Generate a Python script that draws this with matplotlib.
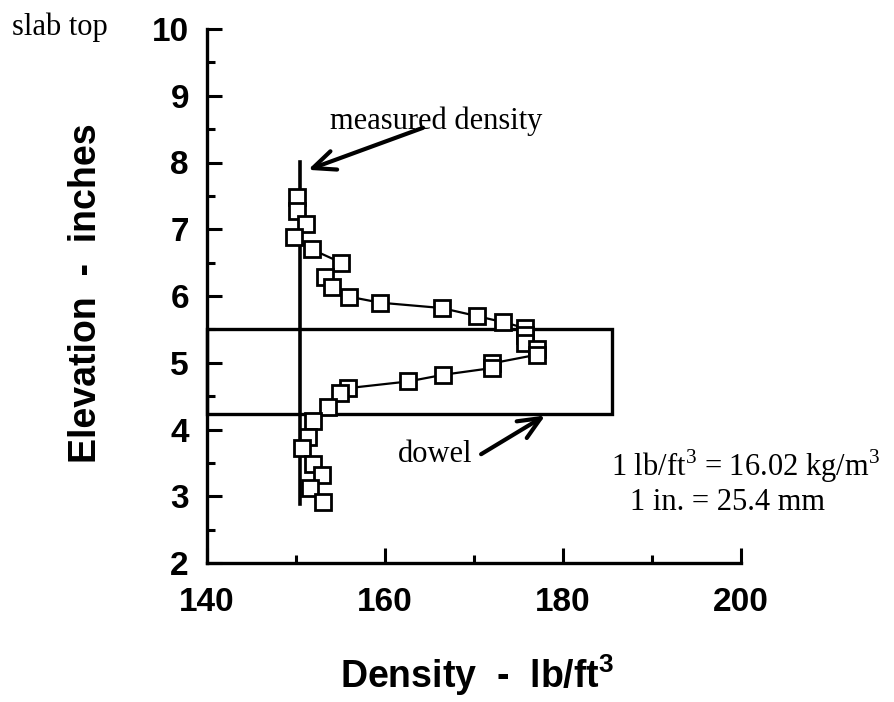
import matplotlib
matplotlib.use("Agg")
import matplotlib.pyplot as plt
from matplotlib.ticker import MultipleLocator
from matplotlib.patches import Rectangle

# Data (density lb/ft^3, elevation inches)
density = [150.15, 150.08, 151.09, 149.81, 151.76, 155.06, 153.26, 154.01, 155.96,
           159.44, 166.37, 170.30, 173.22, 175.73, 175.73, 175.73, 177.04, 177.04,
           171.99, 171.99, 166.55, 162.62, 155.88, 154.94, 153.63, 151.94, 151.38,
           150.64, 151.94, 152.89, 151.57, 153.00]
elevation = [7.49, 7.27, 7.08, 6.88, 6.70, 6.50, 6.29, 6.14, 5.99,
             5.90, 5.82, 5.70, 5.61, 5.52, 5.42, 5.30, 5.21, 5.12,
             4.99, 4.92, 4.82, 4.72, 4.62, 4.54, 4.34, 4.12, 3.89,
             3.72, 3.49, 3.32, 3.12, 2.92]
measured_density = 150.4
measured_range = [2.88, 8.01]
dowel_x = [140, 185.5]
dowel_y = [4.23, 5.5]
x_ticks = [140, 160, 180, 200]
y_ticks = [2, 3, 4, 5, 6, 7, 8, 9, 10]

SANS = "Liberation Sans"
SERIF = "Liberation Serif"
plt.rcParams["mathtext.fontset"] = "custom"
plt.rcParams["mathtext.rm"] = "Liberation Serif"
plt.rcParams["mathtext.bf"] = "Liberation Sans:bold"

W, H = 894, 702
fig = plt.figure(figsize=(W/100, H/100), dpi=100)
ax = fig.add_axes([207/W, 1-563/H, (741-207)/W, (563-29)/H])
ax.set_xlim(140, 200)
ax.set_ylim(2, 10)

for s in ["top", "right"]:
    ax.spines[s].set_visible(False)
for s in ["left", "bottom"]:
    ax.spines[s].set_linewidth(2.4)

ax.set_xticks(x_ticks)
ax.set_yticks(y_ticks)
ax.xaxis.set_minor_locator(MultipleLocator(10))
ax.yaxis.set_minor_locator(MultipleLocator(0.5))
ax.tick_params(which="major", direction="in", length=11, width=2.2)
ax.tick_params(which="minor", direction="in", length=6, width=2.2)
ax.tick_params(axis="y", which="major", pad=13)
ax.tick_params(axis="x", which="major", pad=17)
for lab in ax.get_xticklabels() + ax.get_yticklabels():
    lab.set_fontfamily(SANS)
    lab.set_fontweight("bold")
    lab.set_fontsize(24)

# dowel rectangle
ax.add_patch(Rectangle((dowel_x[0], dowel_y[0]), dowel_x[1]-dowel_x[0], dowel_y[1]-dowel_y[0],
                       fill=False, edgecolor="black", linewidth=2.4, clip_on=False, zorder=2))

# measured density line
ax.plot([measured_density, measured_density], measured_range, color="black", lw=2.6, zorder=3)

# data
ax.plot(density, elevation, color="black", lw=1.6, marker="s", markersize=12,
        markerfacecolor="white", markeredgecolor="black", markeredgewidth=2.0, zorder=4)

# axis labels
fig.text(86/W, 1-463/H, "Elevation  -  inches", fontfamily=SANS, fontweight="bold",
         fontsize=27, rotation=90, ha="center", va="bottom")
fig.text(340/W, 1-688/H, r"Density  -  lb/ft$^{\mathbf{3}}$", fontfamily=SANS,
         fontweight="bold", fontsize=27, ha="left", va="baseline")

# annotations
arrow = dict(arrowstyle="->,head_length=0.8,head_width=0.35", lw=3, color="black",
             mutation_scale=20, shrinkA=0, shrinkB=0)
ax.text(165.7, 8.62, "measured density", fontfamily=SERIF, fontsize=22, ha="center", va="center")
ax.annotate("", xy=(151.35, 7.89), xytext=(164.27, 8.52), arrowprops=arrow)
ax.text(165.6, 3.63, "dowel", fontfamily=SERIF, fontsize=22, ha="center", va="center")
ax.annotate("", xy=(178.0, 4.21), xytext=(170.8, 3.63), arrowprops=arrow)

fig.text(60/W, 1-27/H, "slab top", fontfamily=SERIF, fontsize=22, ha="center", va="center")
fig.text(745/W, 1-466/H, r"1 lb/ft$^3$ = 16.02 kg/m$^3$", fontfamily=SERIF, fontsize=22,
         ha="center", va="center")
fig.text(727/W, 1-503/H, "1 in. = 25.4 mm", fontfamily=SERIF, fontsize=22,
         ha="center", va="center")

fig.savefig("out.png", dpi=100)
